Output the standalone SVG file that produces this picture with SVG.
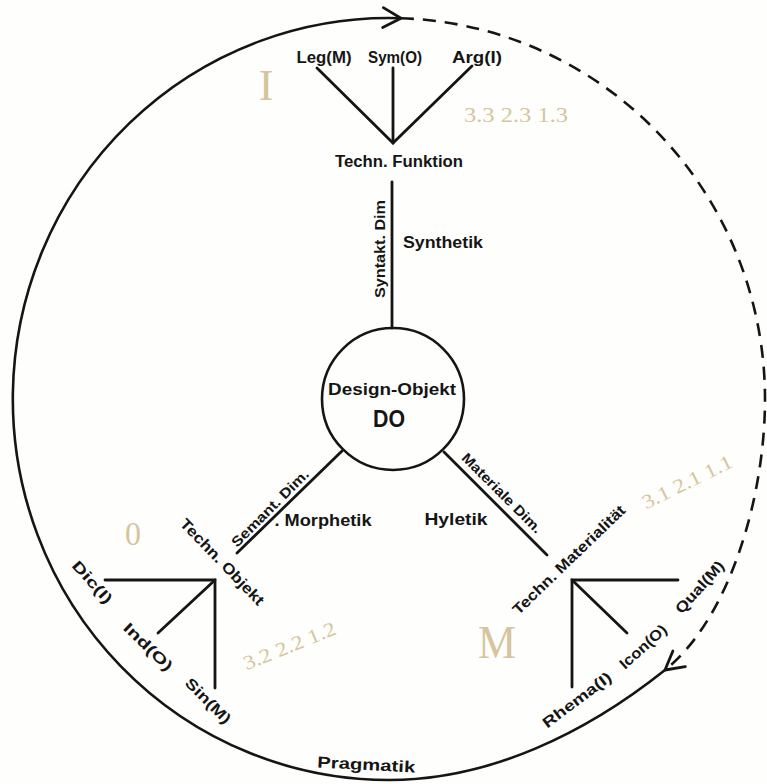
<svg xmlns="http://www.w3.org/2000/svg" width="767" height="784" viewBox="0 0 767 784">
<style>
.ln{stroke:#151515;stroke-width:2.8;fill:none;stroke-linecap:round}
.ring{stroke:#151515;stroke-width:2.6;fill:none}
.dash{stroke-dasharray:13 9}
.t{font-family:"Liberation Sans",Arial,sans-serif;font-weight:bold;fill:#151515;text-anchor:middle}
.s13{font-size:14px}
.s14{font-size:15px}
.s15{font-size:16px}
.pen{font-family:"Liberation Serif","Times New Roman",serif;fill:#d6c59c;text-anchor:middle;font-weight:normal}
</style>
<defs>
<marker id="arr" markerUnits="userSpaceOnUse" orient="auto" markerWidth="30" markerHeight="30" refX="0" refY="0" viewBox="-20 -15 30 30" overflow="visible">
<path d="M -18 -10 L 0 0 L -18 10" fill="none" stroke="#151515" stroke-width="2.8" stroke-linecap="round" stroke-linejoin="round"/>
</marker>
</defs>
<rect x="0" y="0" width="767" height="784" fill="#fefefc"/>

<g id="connectors">
<path class="ring dash" d="M 401 18.2 A 376 381 0 0 1 765 399 C 765 500 728 620 665 670" marker-end="url(#arr)"/>
<path class="ring" d="M 665 670 C 586 733 490 780 389 780 A 376 381 0 1 1 401 18.2" marker-end="url(#arr)"/>
<line class="ln" x1="392" y1="182" x2="392" y2="328"/>
<line class="ln" x1="342" y1="451" x2="237" y2="553"/>
<line class="ln" x1="444" y1="452" x2="547" y2="555"/>
</g>

<g id="design-objekt">
<circle class="ring" cx="393" cy="399" r="71"/>
<text class="t" x="392" y="395" font-size="17" textLength="128" lengthAdjust="spacingAndGlyphs">Design-Objekt</text>
<text class="t" x="389" y="427" font-size="24" textLength="32" lengthAdjust="spacingAndGlyphs">DO</text>
</g>

<g id="techn-funktion">
<polyline class="ln" points="317,68 393,143 472,66"/>
<line class="ln" x1="393" y1="68" x2="393" y2="143"/>
<text class="t s15" x="324" y="63" textLength="55" lengthAdjust="spacingAndGlyphs">Leg(M)</text>
<text class="t s15" x="395" y="63" textLength="54" lengthAdjust="spacingAndGlyphs">Sym(O)</text>
<text class="t s15" x="477" y="63" textLength="50" lengthAdjust="spacingAndGlyphs">Arg(I)</text>
<text class="t s15" x="399" y="167" textLength="128" lengthAdjust="spacingAndGlyphs">Techn. Funktion</text>
</g>

<g id="techn-objekt">
<polyline class="ln" points="105,580 215,580 215,688"/>
<line class="ln" x1="215" y1="580" x2="158" y2="633"/>
<text class="t s14" transform="translate(218.5,565.5) rotate(46)" textLength="114" lengthAdjust="spacingAndGlyphs">Techn. Objekt</text>
<text class="t s14" transform="translate(88.5,585.5) rotate(48)" textLength="52" lengthAdjust="spacingAndGlyphs">Dic(I)</text>
<text class="t s14" transform="translate(144.5,650.5) rotate(44)" textLength="62" lengthAdjust="spacingAndGlyphs">Ind(O)</text>
<text class="t s14" transform="translate(204.5,704.5) rotate(45)" textLength="58" lengthAdjust="spacingAndGlyphs">Sin(M)</text>
</g>

<g id="techn-materialitaet">
<polyline class="ln" points="678,580 572,580 572,687"/>
<line class="ln" x1="572" y1="580" x2="627" y2="633"/>
<text class="t s14" transform="translate(572.5,563.5) rotate(-44)" textLength="150" lengthAdjust="spacingAndGlyphs">Techn. Materialität</text>
<text class="t s14" transform="translate(703.5,590.5) rotate(-48)" textLength="65" lengthAdjust="spacingAndGlyphs">Qual(M)</text>
<text class="t s14" transform="translate(646.5,650.5) rotate(-42)" textLength="58" lengthAdjust="spacingAndGlyphs">Icon(O)</text>
<text class="t s14" transform="translate(580,704) rotate(-37)" textLength="82" lengthAdjust="spacingAndGlyphs">Rhema(I)</text>
</g>

<g id="dimension-labels">
<text class="t s13" transform="translate(385,249) rotate(-90)" textLength="98" lengthAdjust="spacingAndGlyphs">Syntakt. Dim</text>
<text class="t s15" x="443" y="248" textLength="80" lengthAdjust="spacingAndGlyphs">Synthetik</text>
<text class="t s13" transform="translate(273.5,511.5) rotate(-45)" textLength="103" lengthAdjust="spacingAndGlyphs">Semant. Dim.</text>
<text class="t s15" x="323" y="526" textLength="97" lengthAdjust="spacingAndGlyphs">. Morphetik</text>
<text class="t s13" transform="translate(498.5,496.5) rotate(45)" textLength="107" lengthAdjust="spacingAndGlyphs">Materiale Dim.</text>
<text class="t s15" x="456" y="525" textLength="63" lengthAdjust="spacingAndGlyphs">Hyletik</text>
<text class="t s15" transform="translate(366,770) rotate(3)" textLength="98" lengthAdjust="spacingAndGlyphs">Pragmatik</text>
</g>

<g id="pencil-notes">
<text class="pen" x="266" y="100" font-size="44">I</text>
<text class="pen" x="516" y="122" font-size="22" textLength="104" lengthAdjust="spacingAndGlyphs">3.3 2.3 1.3</text>
<text class="pen" x="133" y="545" font-size="34" textLength="16" lengthAdjust="spacingAndGlyphs">0</text>
<text class="pen" transform="translate(292,652) rotate(-22)" font-size="20" textLength="98" lengthAdjust="spacingAndGlyphs">3.2 2.2 1.2</text>
<text class="pen" x="497" y="658" font-size="46" textLength="38" lengthAdjust="spacingAndGlyphs">M</text>
<text class="pen" transform="translate(690,488) rotate(-26)" font-size="20" textLength="98" lengthAdjust="spacingAndGlyphs">3.1 2.1 1.1</text>
</g>
</svg>
